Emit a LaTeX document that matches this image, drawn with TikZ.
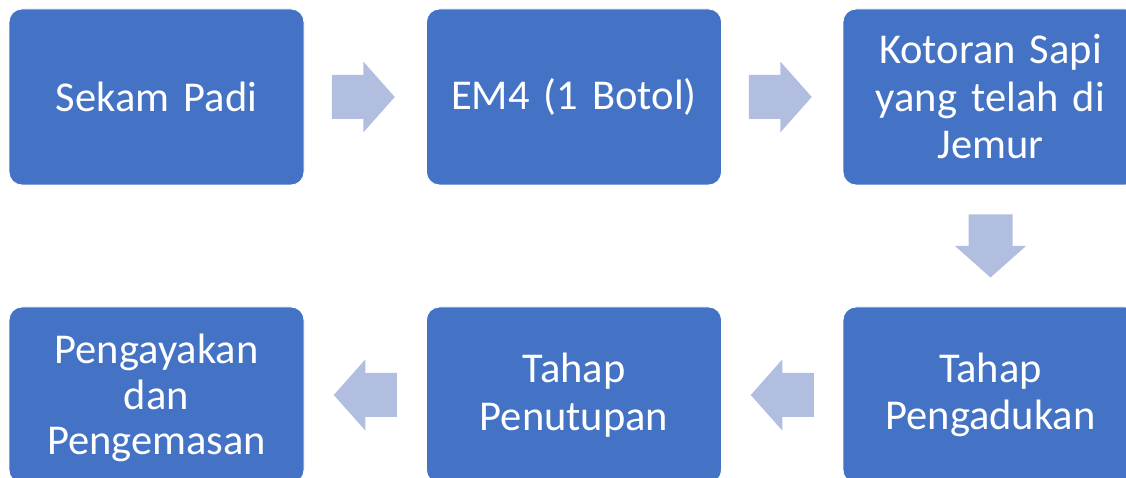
\documentclass[tikz,border=0pt]{standalone}
\usepackage{fontspec}
\setmainfont{Carlito}
\usetikzlibrary{calc}
\definecolor{boxblue}{HTML}{4472C4}
\definecolor{arrowblue}{HTML}{B1BEE0}
\tikzset{
  x=1pt, y=1pt,
  boxtext/.style={align=center, text width=290pt, inner sep=0pt, text=white,
    font=\fontsize{42.5}{47.5}\selectfont},
  stepbox/.style={boxtext, rectangle, rounded corners=13pt, fill=boxblue, draw=white, line width=0.8pt,
    minimum width=295pt, minimum height=176pt},
  flowarrow/.pic={\fill[arrowblue] (-31.5,-22) -- (0,-22) -- (0,-35.5) -- (31.5,0) -- (0,35.5) -- (0,22) -- (-31.5,22) -- cycle;}
}
\begin{document}
\begin{tikzpicture}
\useasboundingbox (0,0) rectangle (1126,478);
\clip (0,0) rectangle (1126,478);
\node[stepbox] (b1) at (156.5,381) {Sekam Padi};
\node[stepbox] (b2) at (574,381) {EM4 (1 Botol)};
\node[stepbox] (b3) at (990.5,381) {Kotoran Sapi\\yang telah di\\Jemur};
\node[stepbox] (b6) at (990.5,83) {Tahap\\Pengadukan};
\node[stepbox] (b5) at (574,83) {Tahap\\Penutupan};
\node[stepbox, label={[boxtext, font=\fontsize{42.5}{45.5}\selectfont, yshift=-3pt]center:Pengayakan\\dan\\Pengemasan}] (b4) at (156.5,83) {};
\pic at ($(b1.east)!0.5!(b2.west)+(-2,0)$) {flowarrow};
\pic at ($(b2.east)!0.5!(b3.west)+(-2,0)$) {flowarrow};
\pic[rotate=-90] at ($(b3.south)!0.5!(b6.north)$) {flowarrow};
\pic[rotate=180] at ($(b6.west)!0.5!(b5.east)$) {flowarrow};
\pic[rotate=180] at ($(b5.west)!0.5!(b4.east)$) {flowarrow};
\end{tikzpicture}
\end{document}
